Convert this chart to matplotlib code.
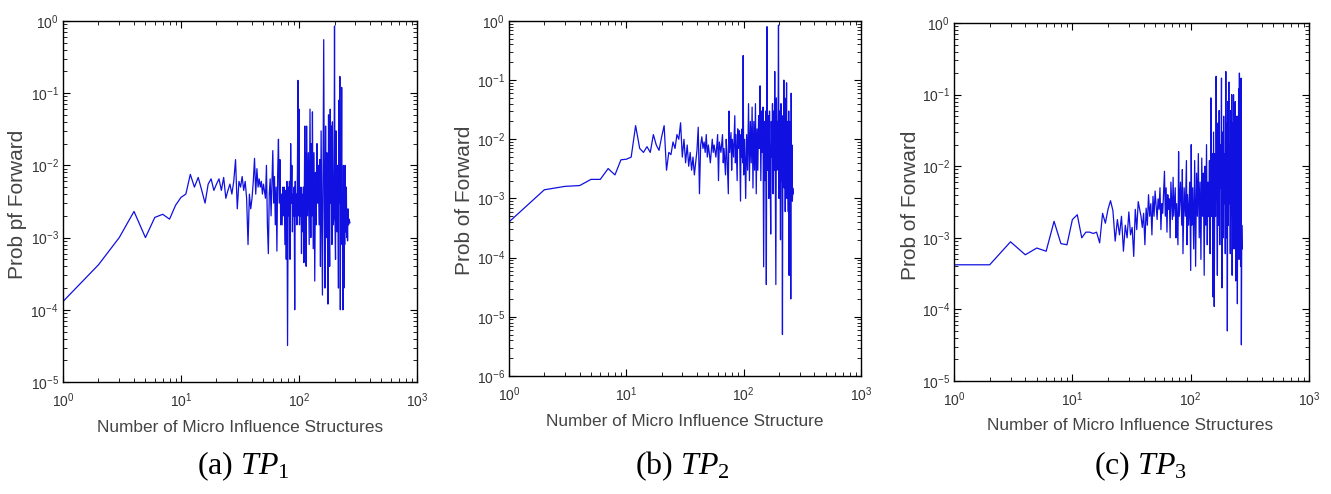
# Forward probability vs number of micro influence structures, three TP panels
import matplotlib
matplotlib.use("Agg")
import matplotlib.pyplot as plt
from matplotlib.ticker import LogLocator, NullFormatter

plt.rcParams["font.family"] = ["Liberation Sans", "DejaVu Sans"]
plt.rcParams["axes.unicode_minus"] = False
plt.rcParams["mathtext.rm"] = "Liberation Serif"
plt.rcParams["mathtext.it"] = "Liberation Serif:italic"

# ---- TP1 ----
tp1_n = [1, 2, 3, 4, 5, 6, 7, 8, 9, 10,
         11, 12, 13, 14, 15, 16, 17, 18, 19, 20,
         21, 22, 23, 24, 25, 26, 27, 28, 29, 30,
         31, 32, 33, 34, 35, 36, 37, 38, 39, 40,
         41, 42, 43, 44, 45, 46, 47, 48, 49, 50,
         52, 53, 54, 55, 56, 57, 58, 60, 61, 62,
         63, 64, 65, 66, 67, 68, 69, 70, 71, 72,
         73, 74, 75, 76, 77, 78, 79, 80, 81, 82,
         83, 84, 85, 86, 87, 88, 89, 90, 91, 92,
         93, 94, 95, 96, 97, 98, 99, 100, 101, 102,
         103, 104, 105, 106, 108, 109, 110, 112, 113, 114,
         115, 116, 117, 118, 120, 122, 124, 126, 127, 129,
         130, 132, 134, 136, 138, 140, 142, 144, 146, 148,
         150, 152, 154, 156, 158, 160, 162, 164, 166, 168,
         170, 172, 174, 176, 178, 180, 182, 184, 186, 188,
         190, 192, 195, 198, 200, 202, 204, 206, 208, 210,
         212, 214, 216, 218, 220, 222, 224, 226, 228, 230,
         232, 234, 236, 238, 240, 242, 244, 246, 248, 250,
         252, 254, 256, 258, 260, 263, 266, 270]
tp1_p = [1.3e-4, 4.2e-4, 1.0e-3, 2.3e-3, 1.0e-3, 1.9e-3, 2.1e-3, 1.8e-3, 2.8e-3, 3.6e-3,
         4.0e-3, 7.5e-3, 5.0e-3, 6.8e-3, 4.5e-3, 3.0e-3, 5.5e-3, 6.5e-3, 4.5e-3, 5.5e-3,
         6.5e-3, 4.5e-3, 6.8e-3, 3.5e-3, 4.5e-3, 5.5e-3, 4.0e-3, 6.0e-3, 1.2e-2, 2.5e-3,
         6.0e-3, 5.0e-3, 7.0e-3, 4.5e-3, 6.0e-3, 3.5e-3, 8.0e-4, 4.0e-3, 2.5e-3, 3.5e-3,
         6.0e-3, 1.25e-2, 4.0e-3, 9.0e-3, 5.0e-3, 6.5e-3, 5.0e-3, 6.0e-3, 4.0e-3, 5.5e-3,
         3.5e-3, 1.0e-2, 1.5e-3, 6.0e-4, 4.0e-3, 6.5e-3, 2.0e-3, 1.6e-2, 3.0e-3, 7.0e-3,
         1.5e-3, 5.0e-3, 6.5e-4, 8.0e-3, 2.3e-2, 3.0e-3, 1.2e-2, 1.5e-3, 4.0e-3, 1.5e-3,
         5.0e-3, 2.0e-3, 5.0e-3, 8.0e-4, 4.5e-3, 5.0e-4, 6.0e-3, 3.2e-5, 5.0e-3, 2.0e-3,
         6.0e-3, 5.0e-4, 2.0e-2, 3.0e-3, 1.0e-2, 1.2e-3, 4.0e-3, 2.0e-3, 5.0e-3, 1.0e-4,
         6.0e-3, 2.0e-3, 4.0e-3, 1.5e-3, 8.0e-3, 1.5e-1, 2.0e-3, 6.0e-2, 1.5e-3, 4.0e-3,
         2.0e-3, 5.0e-3, 6.0e-4, 4.0e-3, 1.2e-3, 5.0e-3, 4.5e-4, 3.5e-2, 2.0e-3, 1.5e-2,
         4.0e-4, 3.5e-2, 5.0e-3, 2.0e-3, 1.5e-2, 8.0e-4, 6.0e-2, 1.0e-3, 2.0e-2, 2.0e-3,
         5.5e-2, 7.0e-4, 1.5e-2, 2.5e-4, 8.0e-3, 1.5e-3, 2.0e-2, 3.0e-3, 1.0e-2, 1.5e-3,
         1.2e-2, 4.0e-4, 3.0e-2, 2.0e-3, 1.6e-4, 8.0e-3, 5.5e-1, 3.0e-3, 2.0e-4, 3.5e-2,
         1.0e-3, 1.5e-2, 2.0e-3, 1.2e-4, 5.0e-2, 2.0e-3, 4.0e-4, 6.0e-2, 3.0e-3, 3.5e-2,
         8.0e-4, 4.0e-2, 1.5e-3, 2.0e-3, 8.5e-1, 1.5e-3, 5.0e-4, 3.0e-2, 4.0e-3, 1.2e-3,
         1.0e-2, 2.0e-3, 2.0e-4, 8.0e-2, 3.0e-3, 1.7e-1, 1.0e-4, 2.0e-2, 3.0e-3, 1.2e-1,
         8.0e-4, 4.0e-3, 1.0e-4, 1.0e-2, 2.0e-4, 3.0e-3, 8.0e-4, 1.0e-2, 1.2e-3, 2.5e-3,
         5.0e-3, 1.0e-3, 2.0e-3, 9.0e-4, 2.5e-3, 1.5e-3, 1.8e-3, 1.6e-3]

# ---- TP2 ----
tp2_n = [1, 2, 3, 4, 5, 6, 7, 8, 9, 10,
         11, 12, 13, 14, 15, 16, 17, 18, 19, 20,
         21, 22, 23, 24, 25, 26, 27, 28, 29, 30,
         31, 32, 33, 34, 35, 36, 37, 38, 39, 40,
         41, 42, 43, 44, 45, 46, 47, 48, 49, 50,
         52, 54, 55, 56, 58, 60, 61, 62, 64, 66,
         67, 68, 70, 71, 72, 74, 75, 76, 78, 79,
         80, 82, 84, 85, 86, 88, 89, 90, 92, 94,
         95, 96, 97, 98, 99, 100, 102, 104, 106, 108,
         110, 112, 114, 116, 118, 120, 122, 124, 126, 128,
         130, 132, 134, 136, 138, 140, 142, 144, 146, 148,
         150, 152, 154, 156, 158, 160, 162, 164, 166, 168,
         170, 172, 174, 176, 178, 180, 182, 184, 186, 188,
         190, 192, 194, 196, 198, 200, 202, 204, 206, 208,
         210, 212, 214, 216, 218, 220, 222, 224, 226, 228,
         230, 232, 234, 236, 238, 240, 242, 244, 246, 248,
         250, 252, 254, 256, 258, 260, 262, 265]
tp2_p = [4.0e-4, 1.4e-3, 1.6e-3, 1.65e-3, 2.1e-3, 2.1e-3, 3.2e-3, 2.5e-3, 4.5e-3, 4.6e-3,
         5.0e-3, 1.7e-2, 7.0e-3, 6.0e-3, 7.5e-3, 6.0e-3, 1.2e-2, 8.0e-3, 6.5e-3, 1.1e-2,
         1.7e-2, 3.0e-3, 6.0e-3, 5.5e-3, 9.0e-3, 7.0e-3, 1.2e-2, 1.0e-2, 1.9e-2, 5.0e-3,
         1.0e-2, 4.0e-3, 8.0e-3, 3.5e-3, 6.0e-3, 3.0e-3, 5.0e-3, 2.5e-3, 4.0e-3, 6.5e-3,
         1.6e-2, 1.2e-3, 8.0e-3, 1.1e-2, 7.0e-3, 9.0e-3, 6.0e-3, 1.2e-2, 5.0e-3, 8.0e-3,
         4.0e-3, 1.0e-2, 6.0e-3, 8.0e-3, 5.0e-3, 1.2e-2, 2.0e-3, 9.0e-3, 6.0e-3, 1.2e-2,
         4.0e-3, 7.0e-3, 2.5e-3, 1.0e-2, 6.0e-3, 1.2e-3, 3.0e-2, 6.0e-3, 1.3e-2, 3.0e-3,
         1.0e-2, 5.0e-3, 2.5e-2, 4.0e-3, 1.2e-2, 2.0e-3, 1.5e-2, 7.0e-3, 1.4e-2, 9.0e-4,
         1.2e-2, 5.0e-3, 1.5e-2, 4.0e-3, 2.6e-1, 2.5e-3, 1.0e-2, 1.0e-3, 1.2e-2, 3.0e-3,
         4.0e-2, 2.0e-3, 2.0e-2, 4.0e-3, 3.5e-2, 1.5e-3, 2.0e-2, 3.0e-3, 4.0e-2, 1.2e-3,
         1.5e-2, 3.0e-3, 2.5e-2, 7.0e-3, 8.0e-2, 2.0e-3, 3.0e-2, 6.0e-3, 3.5e-2, 7.0e-5,
         2.0e-2, 2.0e-3, 3.0e-2, 3.5e-5, 8.0e-1, 3.0e-3, 2.5e-2, 1.0e-3, 3.0e-2, 4.0e-3,
         2.5e-4, 2.0e-2, 5.0e-3, 4.0e-2, 1.2e-3, 3.0e-2, 3.0e-3, 1.4e-1, 2.0e-3, 3.5e-5,
         5.0e-2, 3.0e-3, 2.0e-2, 8.0e-3, 8.5e-1, 1.0e-3, 3.0e-2, 5.0e-3, 2.0e-4, 4.0e-2,
         2.0e-3, 1.5e-2, 5.0e-6, 2.5e-2, 4.0e-3, 1.0e-1, 1.5e-3, 5.0e-2, 6.0e-4, 3.0e-2,
         8.0e-3, 9.0e-2, 1.0e-3, 2.0e-2, 4.0e-3, 6.0e-4, 3.0e-2, 5.0e-5, 2.0e-2, 3.0e-3,
         1.0e-2, 2.0e-5, 6.0e-2, 1.5e-3, 8.0e-3, 9.0e-4, 1.5e-3, 1.2e-3]

# ---- TP3 ----
tp3_n = [1, 2, 3, 4, 5, 6, 7, 8, 9, 10,
         11, 12, 13, 14, 15, 16, 17, 18, 19, 20,
         21, 22, 23, 24, 25, 26, 27, 28, 29, 30,
         31, 32, 33, 34, 35, 36, 37, 38, 39, 40,
         41, 42, 43, 44, 45, 46, 47, 48, 49, 50,
         52, 53, 54, 55, 56, 57, 58, 60, 61, 62,
         63, 64, 65, 66, 67, 68, 70, 71, 72, 74,
         75, 76, 78, 79, 80, 82, 84, 85, 86, 88,
         90, 92, 93, 94, 96, 98, 100, 101, 102, 104,
         106, 108, 110, 112, 114, 116, 118, 120, 122, 124,
         126, 128, 130, 132, 134, 136, 138, 140, 142, 144,
         146, 148, 150, 152, 154, 156, 158, 160, 162, 164,
         166, 168, 170, 172, 174, 176, 178, 180, 182, 184,
         186, 188, 190, 192, 194, 196, 198, 200, 202, 204,
         206, 208, 210, 212, 214, 216, 218, 220, 222, 224,
         226, 228, 230, 232, 234, 236, 238, 240, 242, 244,
         246, 248, 250, 252, 254, 256, 258, 260, 262, 264,
         266, 268, 270, 272]
tp3_p = [4.2e-4, 4.2e-4, 8.8e-4, 5.8e-4, 7.2e-4, 6.5e-4, 1.7e-3, 8.3e-4, 8.0e-4, 1.8e-3,
         2.1e-3, 1.0e-3, 1.2e-3, 1.2e-3, 1.15e-3, 1.2e-3, 8.5e-4, 2.2e-3, 1.6e-3, 2.5e-3,
         3.3e-3, 2.4e-3, 9.0e-4, 1.8e-3, 1.1e-3, 2.0e-3, 6.5e-4, 1.5e-3, 1.0e-3, 2.3e-3,
         1.1e-3, 1.4e-3, 5.5e-4, 2.5e-3, 1.3e-3, 3.2e-3, 2.5e-3, 2.0e-3, 1.4e-3, 2.2e-3,
         8.0e-4, 2.6e-3, 1.5e-3, 4.0e-3, 2.0e-3, 3.0e-3, 1.1e-3, 3.8e-3, 2.0e-3, 4.5e-3,
         1.8e-3, 3.5e-3, 2.5e-3, 5.0e-3, 1.3e-3, 3.0e-3, 2.2e-3, 8.5e-3, 2.0e-3, 5.0e-3,
         1.2e-3, 4.0e-3, 2.5e-3, 3.5e-3, 1.0e-3, 6.0e-3, 1.8e-3, 7.0e-3, 2.0e-3, 5.0e-3,
         1.0e-3, 3.0e-3, 8.0e-4, 1.6e-2, 2.0e-3, 6.0e-3, 1.5e-3, 9.0e-3, 6.0e-4, 5.0e-3,
         2.0e-3, 1.2e-2, 8.0e-4, 4.0e-3, 1.5e-3, 6.0e-3, 3.5e-4, 2.0e-2, 1.5e-3, 5.0e-3,
         7.0e-4, 1.2e-2, 4.0e-4, 8.0e-3, 2.0e-3, 1.5e-2, 1.0e-3, 6.0e-3, 5.0e-4, 1.3e-2,
         2.0e-3, 8.0e-3, 3.0e-4, 1.0e-2, 1.5e-3, 2.0e-2, 8.0e-4, 6.0e-3, 2.0e-3, 1.2e-2,
         6.0e-4, 9.0e-2, 2.0e-3, 1.5e-2, 1.5e-4, 3.0e-2, 1.1e-4, 1.5e-2, 2.0e-3, 1.8e-1,
         5.0e-3, 3.0e-4, 4.0e-2, 1.5e-3, 6.0e-2, 8.0e-4, 2.0e-2, 5.0e-3, 1.7e-1, 2.0e-4,
         3.0e-2, 1.0e-3, 5.0e-2, 3.0e-3, 1.5e-2, 6.0e-4, 2.1e-1, 1.0e-3, 4.0e-2, 5.0e-5,
         8.0e-2, 1.5e-3, 1.5e-1, 3.0e-3, 2.0e-2, 6.0e-4, 6.0e-2, 2.0e-3, 1.0e-1, 3.0e-4,
         4.0e-2, 1.5e-3, 1.0e-1, 7.0e-4, 3.0e-2, 2.0e-3, 8.0e-2, 2.5e-4, 5.0e-2, 1.2e-3,
         2.0e-2, 1.2e-4, 5.0e-2, 2.0e-3, 1.2e-1, 5.0e-4, 2.0e-1, 1.5e-3, 5.0e-2, 4.0e-4,
         1.7e-1, 3.2e-5, 1.5e-3, 7.0e-4]

ylabels = ["Prob pf Forward", "Prob of Forward", "Prob of Forward"]
xlabels = ["Number of Micro Influence Structures",
           "Number of Micro Influence Structure",
           "Number of Micro Influence Structures"]
captions = [r"(a) $\mathit{TP}_{\mathit{1}}$",
            r"(b) $\mathit{TP}_{\mathit{2}}$",
            r"(c) $\mathit{TP}_{\mathit{3}}$"]
ymins = [1e-5, 1e-6, 1e-5]

series = [(tp1_n, tp1_p), (tp2_n, tp2_p), (tp3_n, tp3_p)]
boxes = [[0.0473, 0.2267, 0.266, 0.731],
         [0.3824, 0.239, 0.2645, 0.7186],
         [0.7168, 0.2287, 0.2667, 0.7247]]
xlab_pos = [(0.5, -0.125), (0.5, -0.127), (0.496, -0.123)]
ylab_pos = [(-0.127, 0.493), (-0.125, 0.496), (-0.124, 0.49)]

fig = plt.figure(figsize=(13.31, 4.94), dpi=100)

for i in range(3):
    ax = fig.add_axes(boxes[i])
    n, p = series[i]
    ax.loglog(n, p, color="#1010e0", lw=0.9)
    ax.set_xlim(1, 1000)
    ax.set_ylim(ymins[i], 1)
    ax.xaxis.set_major_locator(LogLocator(base=10, numticks=10))
    ax.yaxis.set_major_locator(LogLocator(base=10, numticks=10))
    ax.xaxis.set_minor_formatter(NullFormatter())
    ax.yaxis.set_minor_formatter(NullFormatter())
    ax.tick_params(which="both", direction="in", top=True, right=True,
                   labelsize=10, labelcolor="#333333")
    ax.tick_params(which="major", length=5)
    ax.tick_params(axis="x", which="major", pad=7)
    ax.tick_params(axis="y", which="major", pad=3)
    ax.tick_params(which="minor", length=3)
    ax.set_xlabel(xlabels[i], fontsize=12.4, color="#444444", va="center")
    ax.set_ylabel(ylabels[i], fontsize=15, color="#444444", va="center")
    ax.xaxis.set_label_coords(*xlab_pos[i])
    ax.yaxis.set_label_coords(*ylab_pos[i])
    for s in ax.spines.values():
        s.set_linewidth(1.0)

cap_x = [243 / 1331, 682 / 1331, 1141 / 1331]
for i in range(3):
    fig.text(cap_x[i], 1 - 466 / 494, captions[i], ha="center", va="center",
             fontsize=23, family="Liberation Serif", math_fontfamily="custom")

fig.savefig("out.png", dpi=100)
